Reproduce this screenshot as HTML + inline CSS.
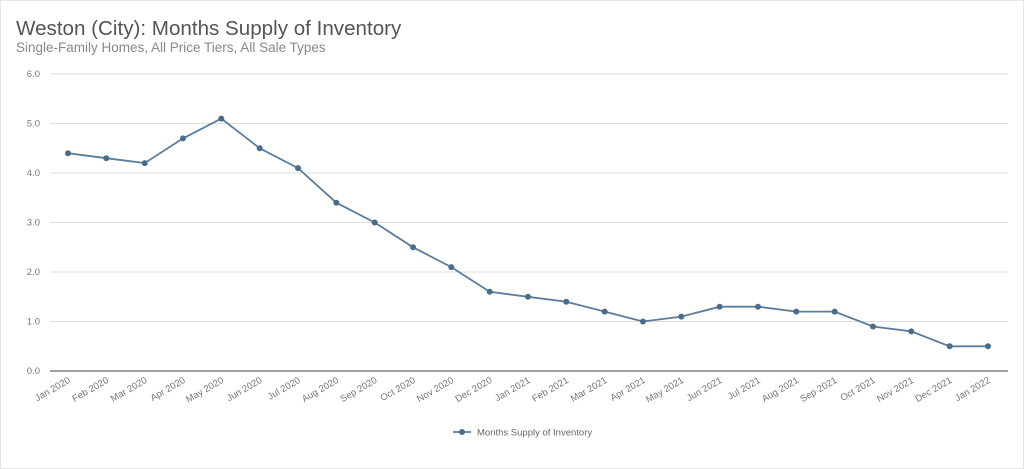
<!DOCTYPE html>
<html><head><meta charset="utf-8"><style>
html,body{margin:0;padding:0;background:#fff}
svg{display:block;font-family:"Liberation Sans",sans-serif}
</style></head><body>
<svg width="1024" height="469" viewBox="0 0 1024 469" xmlns="http://www.w3.org/2000/svg">
<rect x="0.5" y="0.5" width="1023" height="468" fill="#fff" stroke="#e6e6e6"/>
<text x="16" y="35" font-size="20.6" fill="#555">Weston (City): Months Supply of Inventory</text>
<text x="16" y="52" font-size="13.5" fill="#888">Single-Family Homes, All Price Tiers, All Sale Types</text>
<g stroke="#dedede" stroke-width="1">
<line x1="50" x2="1008" y1="74" y2="74"/><line x1="50" x2="1008" y1="123.5" y2="123.5"/>
<line x1="50" x2="1008" y1="173" y2="173"/><line x1="50" x2="1008" y1="222.5" y2="222.5"/>
<line x1="50" x2="1008" y1="272" y2="272"/><line x1="50" x2="1008" y1="321.5" y2="321.5"/>
</g>
<line x1="50" x2="1008" y1="371" y2="371" stroke="#666" stroke-width="1.3"/>
<g font-size="9.5" fill="#777" text-anchor="end">
<text x="40" y="77">6.0</text><text x="40" y="126.5">5.0</text><text x="40" y="176">4.0</text>
<text x="40" y="225.5">3.0</text><text x="40" y="275">2.0</text><text x="40" y="324.5">1.0</text><text x="40" y="374">0.0</text>
</g>
<polyline fill="none" stroke="#5b7d9b" stroke-width="1.8" points="68,153.2 106.3,158.2 144.7,163.1 183,138.4 221.3,118.6 259.7,148.3 298,168.1 336.3,202.7 374.7,222.5 413,247.3 451.3,267.1 489.7,291.8 528,296.8 566.3,301.7 604.7,311.6 643,321.5 681.3,316.6 719.7,306.7 758,306.7 796.3,311.6 834.7,311.6 873,326.5 911.3,331.4 949.7,346.3 988,346.3"/>
<g fill="#4a6d8c">
<circle cx="68" cy="153.2" r="3"/><circle cx="106.3" cy="158.2" r="3"/><circle cx="144.7" cy="163.1" r="3"/><circle cx="183" cy="138.4" r="3"/><circle cx="221.3" cy="118.6" r="3"/><circle cx="259.7" cy="148.3" r="3"/><circle cx="298" cy="168.1" r="3"/><circle cx="336.3" cy="202.7" r="3"/><circle cx="374.7" cy="222.5" r="3"/><circle cx="413" cy="247.3" r="3"/><circle cx="451.3" cy="267.1" r="3"/><circle cx="489.7" cy="291.8" r="3"/><circle cx="528" cy="296.8" r="3"/><circle cx="566.3" cy="301.7" r="3"/><circle cx="604.7" cy="311.6" r="3"/><circle cx="643" cy="321.5" r="3"/><circle cx="681.3" cy="316.6" r="3"/><circle cx="719.7" cy="306.7" r="3"/><circle cx="758" cy="306.7" r="3"/><circle cx="796.3" cy="311.6" r="3"/><circle cx="834.7" cy="311.6" r="3"/><circle cx="873" cy="326.5" r="3"/><circle cx="911.3" cy="331.4" r="3"/><circle cx="949.7" cy="346.3" r="3"/><circle cx="988" cy="346.3" r="3"/>
</g>
<g font-size="9.5" fill="#777" text-anchor="end">
<text transform="translate(71,382) rotate(-30)">Jan 2020</text>
<text transform="translate(109.3,382) rotate(-30)">Feb 2020</text>
<text transform="translate(147.7,382) rotate(-30)">Mar 2020</text>
<text transform="translate(186,382) rotate(-30)">Apr 2020</text>
<text transform="translate(224.3,382) rotate(-30)">May 2020</text>
<text transform="translate(262.7,382) rotate(-30)">Jun 2020</text>
<text transform="translate(301,382) rotate(-30)">Jul 2020</text>
<text transform="translate(339.3,382) rotate(-30)">Aug 2020</text>
<text transform="translate(377.7,382) rotate(-30)">Sep 2020</text>
<text transform="translate(416,382) rotate(-30)">Oct 2020</text>
<text transform="translate(454.3,382) rotate(-30)">Nov 2020</text>
<text transform="translate(492.7,382) rotate(-30)">Dec 2020</text>
<text transform="translate(531,382) rotate(-30)">Jan 2021</text>
<text transform="translate(569.3,382) rotate(-30)">Feb 2021</text>
<text transform="translate(607.7,382) rotate(-30)">Mar 2021</text>
<text transform="translate(646,382) rotate(-30)">Apr 2021</text>
<text transform="translate(684.3,382) rotate(-30)">May 2021</text>
<text transform="translate(722.7,382) rotate(-30)">Jun 2021</text>
<text transform="translate(761,382) rotate(-30)">Jul 2021</text>
<text transform="translate(799.3,382) rotate(-30)">Aug 2021</text>
<text transform="translate(837.7,382) rotate(-30)">Sep 2021</text>
<text transform="translate(876,382) rotate(-30)">Oct 2021</text>
<text transform="translate(914.3,382) rotate(-30)">Nov 2021</text>
<text transform="translate(952.7,382) rotate(-30)">Dec 2021</text>
<text transform="translate(991,382) rotate(-30)">Jan 2022</text>
</g>
<line x1="453" x2="471" y1="432" y2="432" stroke="#5b7d9b" stroke-width="1.8"/>
<circle cx="462" cy="432" r="3" fill="#4a6d8c"/>
<text x="477" y="435.5" font-size="9.5" fill="#666">Months Supply of Inventory</text>
</svg>
</body></html>
